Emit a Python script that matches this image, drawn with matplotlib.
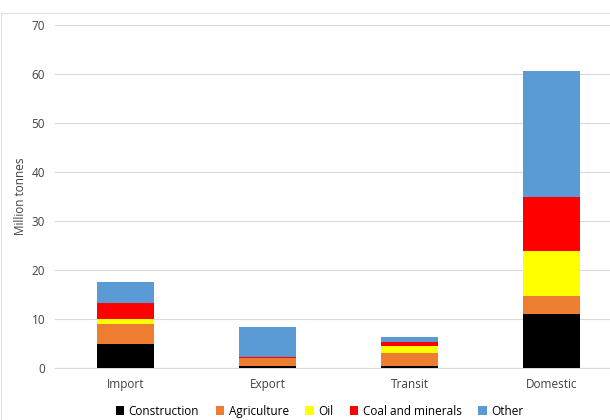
import matplotlib
matplotlib.use("Agg")
from matplotlib import pyplot as plt
from matplotlib.patches import Rectangle
import numpy as np

plt.rcParams['font.family'] = ['Open Sans', 'DejaVu Sans']

categories = ['Import', 'Export', 'Transit', 'Domestic']
series = ['Construction', 'Agriculture', 'Oil', 'Coal and minerals', 'Other']
construction = [4.9, 0.4, 0.4, 11.0]
agriculture = [4.0, 1.7, 2.6, 3.6]
oil = [1.0, 0.0, 1.5, 9.3]
coal = [3.3, 0.1, 0.7, 11.1]
other = [4.3, 6.2, 1.2, 25.7]
colors = ['#000000', '#ED7D31', '#FFFF00', '#FF0000', '#5B9BD5']

fig = plt.figure(figsize=(6.1, 4.2), dpi=100)
# faint chart-area border (top and left edges visible)
fig.patches.append(Rectangle((0.002, -0.1), 1.1, 1.1 - 13 / 420, transform=fig.transFigure,
                             fill=False, edgecolor='#e0e0e0', linewidth=0.8))
ax = fig.add_axes([0.09, 0.124, 0.91, 0.816])

x = np.arange(len(categories))
bottom = np.zeros(len(categories))
for name, vals, c in zip(series, [construction, agriculture, oil, coal, other], colors):
    ax.bar(x, vals, width=0.4, bottom=bottom, color=c, label=name, zorder=3)
    bottom += np.array(vals)

ax.set_xlim(-0.5, 3.41)
ax.set_ylim(0, 70)
ax.set_yticks(range(0, 71, 10))
ax.set_xticks(x)
ax.set_xticklabels(categories)
ax.grid(axis='y', color='#d9d9d9', linewidth=0.8, zorder=0)
for s in ['top', 'right', 'left']:
    ax.spines[s].set_visible(False)
ax.spines['bottom'].set_color('#d9d9d9')
ax.tick_params(length=0, labelsize=8.5, colors='#404040', pad=7)
ax.set_ylabel('Million tonnes', fontsize=8.5, color='#404040', labelpad=3)

ax.legend(loc='upper center', bbox_to_anchor=(0.477, -0.076), ncol=5, frameon=False,
          fontsize=8.5, handlelength=0.7, handleheight=0.7, handletextpad=0.4,
          columnspacing=1.4, labelcolor='#000000')

plt.savefig("out.png", dpi=100)
